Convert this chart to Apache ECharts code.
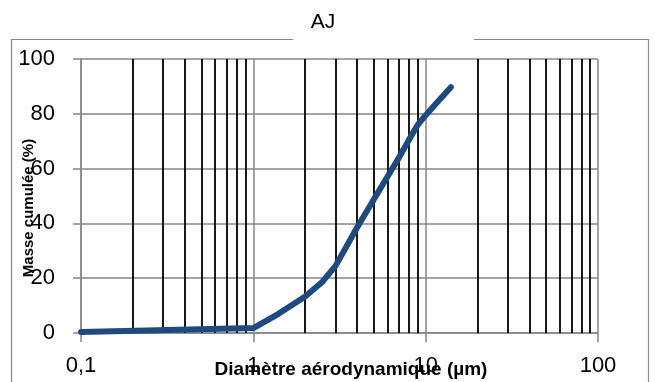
<!DOCTYPE html>
<html>
<head>
<meta charset="utf-8">
<script src="https://cdn.jsdelivr.net/npm/echarts@6/dist/echarts.min.js"></script>
<style>html,body{margin:0;padding:0;background:#fff;}#c{width:655px;height:382px;}</style>
</head>
<body>
<div id="c"></div>
<script>
// Data
const diameters = [0.1, 1, 1.4, 2, 2.5, 3, 4, 5, 6, 7, 8, 9, 10, 12, 14];
const cumulativeMass = [0.4, 1.8, 7, 13.3, 18.5, 24.5, 38.5, 48.7, 57, 64, 70.5, 76, 79.5, 85, 89.7];
const minorGridValues = [0.2,0.3,0.4,0.5,0.6,0.7,0.8,0.9,2,3,4,5,6,7,8,9,20,30,40,50,60,70,80,90];
const yTicks = [0, 20, 40, 60, 80, 100];
const chartTitle = 'AJ';
const xTitle = 'Diamètre aérodynamique (µm)';
const yTitle = 'Masse cumulée (%)';

const FONT = 'Liberation Sans';
const GRAY = '#878787';
const chart = echarts.init(document.getElementById('c'), null, {renderer: 'canvas'});
const points = diameters.map((d, i) => [d, cumulativeMass[i]]);

chart.setOption({
  animation: false,
  backgroundColor: '#fff',
  grid: {left: 81, right: 57, top: 59, bottom: 49, containLabel: false},
  xAxis: {
    type: 'log', logBase: 10, min: 0.1, max: 100,
    axisLine: {show: true, lineStyle: {color: GRAY, width: 1.5}},
    axisTick: {show: true, length: 9, lineStyle: {color: GRAY, width: 1.5}},
    axisLabel: {
      margin: 22, color: '#000', fontFamily: FONT, fontSize: 22,
      formatter: v => String(v).replace('.', ',')
    },
    splitLine: {show: true, lineStyle: {color: GRAY, width: 1.5}},
    minorTick: {show: false}, minorSplitLine: {show: false}
  },
  yAxis: {
    type: 'value', min: yTicks[0], max: yTicks[yTicks.length - 1], interval: 20,
    axisLine: {show: true, lineStyle: {color: GRAY, width: 1.5}},
    axisTick: {show: true, length: 8, lineStyle: {color: GRAY, width: 1.5}},
    axisLabel: {margin: 26, color: '#000', fontFamily: FONT, fontSize: 22},
    splitLine: {show: true, lineStyle: {color: GRAY, width: 1.5}}
  },
  series: [
    {
      type: 'line', data: [], z: 1, silent: true,
      markLine: {
        silent: true, symbol: 'none', animation: false,
        label: {show: false},
        lineStyle: {color: '#000', width: 1.8, type: 'solid'},
        emphasis: {disabled: true},
        data: minorGridValues.map(v => ({xAxis: v}))
      }
    },
    {
      type: 'line', data: points, z: 5,
      showSymbol: false, symbol: 'none', smooth: false,
      lineStyle: {color: '#1f4a7f', width: 6, cap: 'round', join: 'round'}
    }
  ],
  graphic: [
    {type: 'polyline', silent: true, shape: {points: [[293, 39.5], [11.5, 39.5], [11.5, 400]]},
     style: {stroke: GRAY, lineWidth: 1.2, fill: null}},
    {type: 'polyline', silent: true, shape: {points: [[474, 39.5], [648.5, 39.5], [648.5, 400]]},
     style: {stroke: GRAY, lineWidth: 1.2, fill: null}},
    {type: 'text', silent: true,
     style: {text: chartTitle, x: 323, y: 22, textAlign: 'center', textVerticalAlign: 'middle',
             fontFamily: FONT, fontSize: 21, fill: '#000'}},
    {type: 'text', silent: true,
     style: {text: xTitle, x: 351, y: 370, textAlign: 'center', textVerticalAlign: 'middle',
             fontFamily: FONT, fontSize: 19, fontWeight: 'bold', fill: '#000'}},
    {type: 'text', silent: true, x: 29, y: 208, rotation: Math.PI / 2,
     style: {text: yTitle, x: 0, y: 0, textAlign: 'center', textVerticalAlign: 'middle',
             fontFamily: FONT, fontSize: 15, fontWeight: 'bold', fill: '#000'}}
  ]
});
</script>
</body>
</html>
